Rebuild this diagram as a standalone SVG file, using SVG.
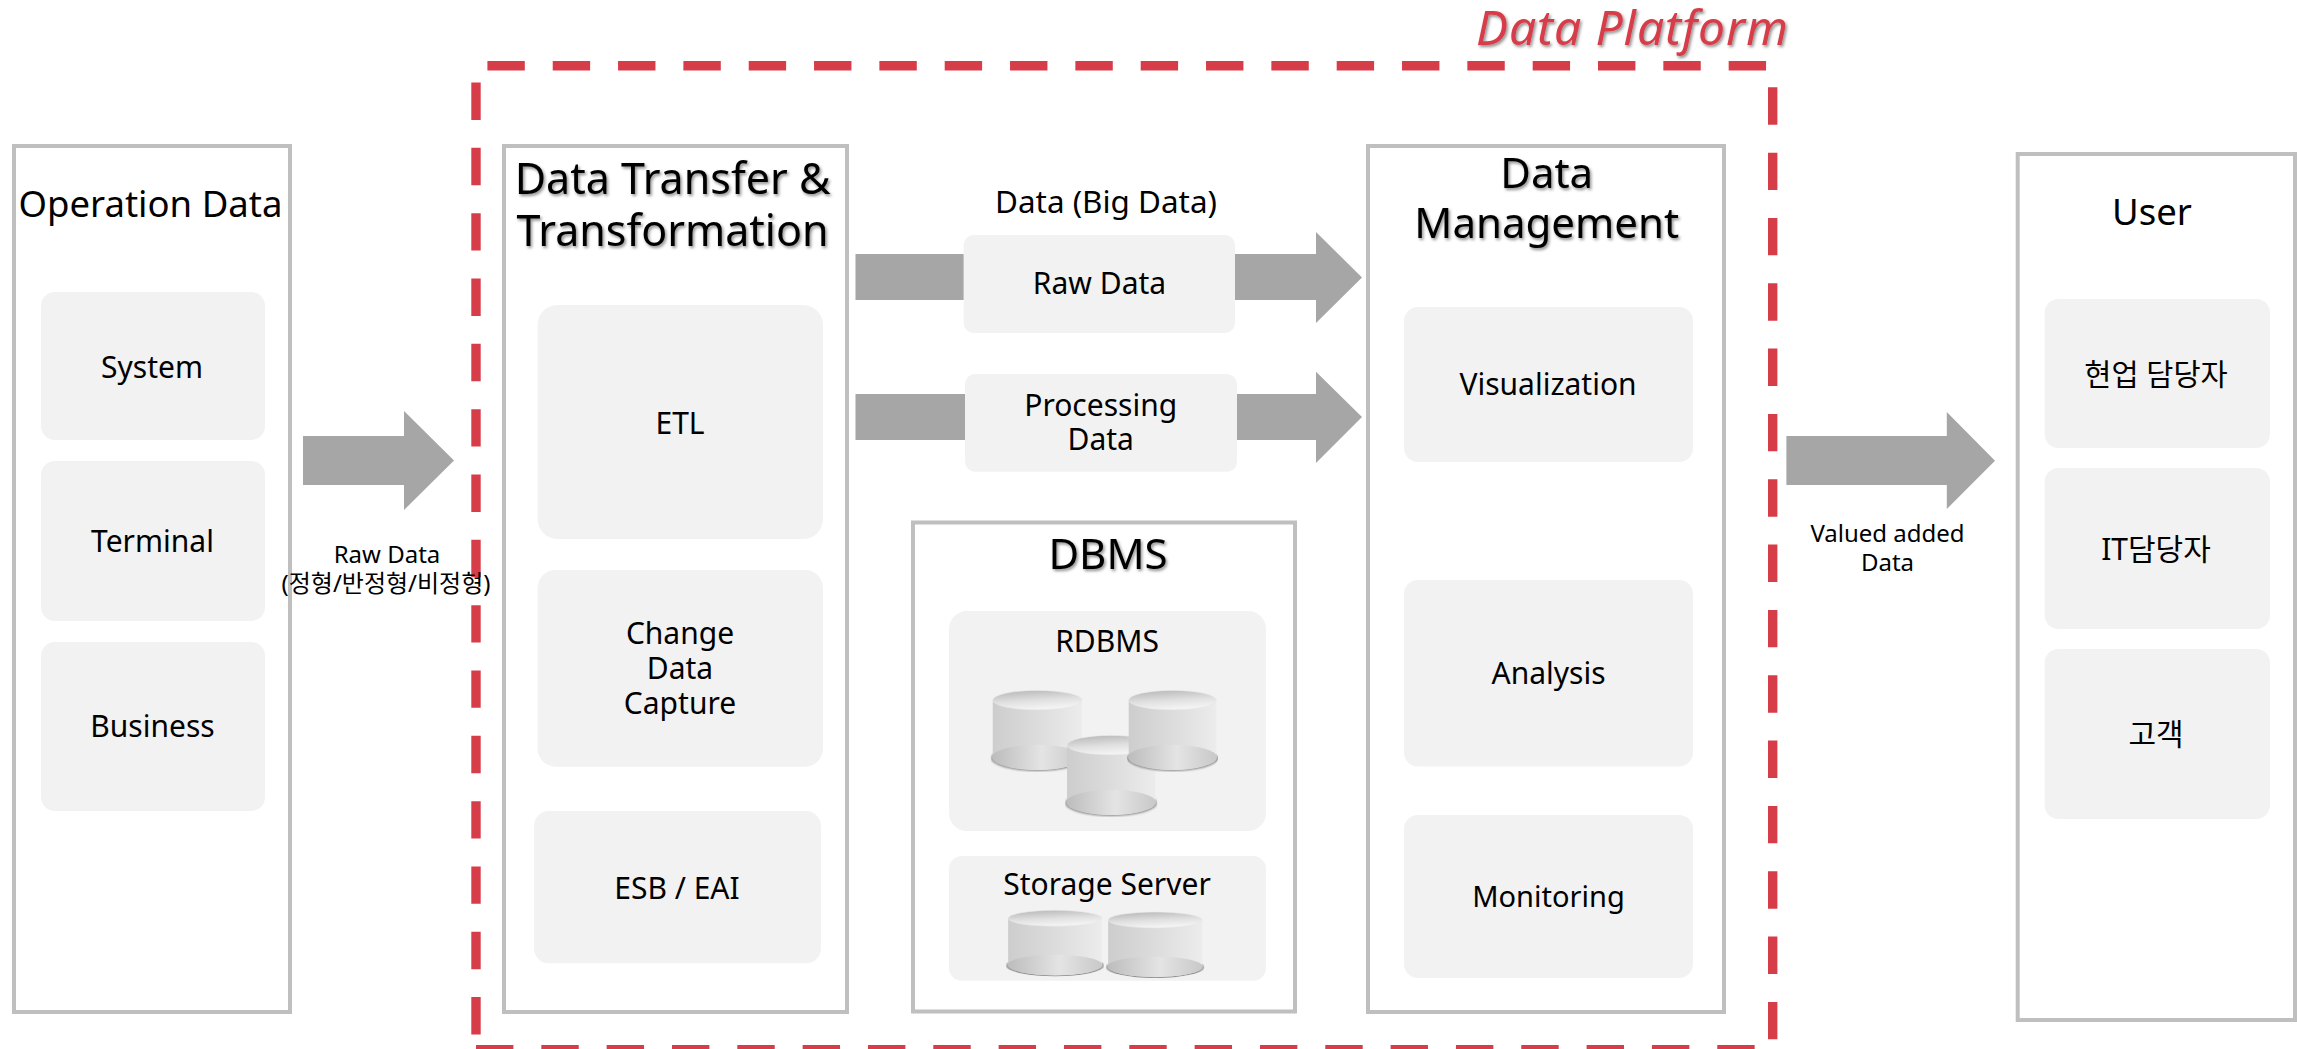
<svg xmlns="http://www.w3.org/2000/svg" width="2297" height="1049" viewBox="0 0 2297 1049">
<style>
text{font-family:"Noto Sans","Noto Sans CJK KR",sans-serif;fill:#000;text-anchor:middle}
.box{fill:#fff;stroke:#bfbfbf;stroke-width:4}
.card{fill:#f2f2f2}
.arrow{fill:#a6a6a6}
.dash{fill:none;stroke:#d73c49;stroke-width:9.4;stroke-dasharray:37.4 27.93}
.t{font-size:30px}
.h{font-size:36.500px}
.title{font-size:42px;filter:url(#ts)}
.s{font-size:24px}
</style>
<defs>
<filter id="ts" x="-10%" y="-20%" width="120%" height="150%"><feDropShadow dx="1.5" dy="2" stdDeviation="1.5" flood-color="#000" flood-opacity=".45"/></filter>
<linearGradient id="cb" x1="0" x2="1" y1="0" y2="0"><stop offset="0" stop-color="#cdcdcd"/><stop offset=".5" stop-color="#dcdcdc"/><stop offset="1" stop-color="#ececec"/></linearGradient>
<linearGradient id="ct" x1="0" x2=".3" y1="0" y2="1"><stop offset="0" stop-color="#b4b4b4"/><stop offset=".6" stop-color="#e0e0e0"/><stop offset="1" stop-color="#f3f3f3"/></linearGradient>
<linearGradient id="cf" x1="0" x2="1" y1="0" y2="0"><stop offset="0" stop-color="#bcbcbc"/><stop offset=".55" stop-color="#e4e4e4"/><stop offset="1" stop-color="#c8c8c8"/></linearGradient>
<filter id="blur" x="-5%" y="-20%" width="110%" height="140%"><feGaussianBlur stdDeviation=".8"/></filter>
<symbol id="cyl" viewBox="0 0 92 81" preserveAspectRatio="none">
<ellipse cx="46" cy="67.300" rx="45.600" ry="12.800" fill="#888" filter="url(#blur)"/>
<path d="M2 10V66A44 13 0 0 0 90 66V10Z" fill="url(#cb)"/>
<ellipse cx="46" cy="66.600" rx="44.800" ry="12.500" fill="url(#cf)"/>
<ellipse cx="46" cy="10" rx="44" ry="9.600" fill="url(#ct)" stroke="#e8e8e8" stroke-width=".6"/>
</symbol>
</defs>
<rect width="2297" height="1049" fill="#fff"/>

<g id="platform-frame">
<path class="dash" d="M487.400 65.800H1772"/>
<path class="dash" d="M1772.700 87.300V1049"/>
<path class="dash" d="M476 1049.700H1772"/>
<path class="dash" d="M476 82.500V1049"/>
<text x="1632" y="45" style="font-size:48px;font-style:italic;fill:#d73c49;filter:url(#ts)" textLength="312">Data Platform</text>
</g>

<g id="operation-data">
<rect class="box" x="14" y="146" width="276" height="866"/>
<text class="h" x="150.500" y="217">Operation Data</text>
<g id="system"><rect class="card" x="41" y="292" width="224" height="148" rx="14"/><text class="t" x="152" y="377.500">System</text></g>
<g id="terminal"><rect class="card" x="41" y="461" width="224" height="160" rx="14"/><text class="t" x="152.500" y="552">Terminal</text></g>
<g id="business"><rect class="card" x="41" y="642" width="224" height="169" rx="14"/><text class="t" x="152.500" y="737">Business</text></g>
</g>

<g id="data-transfer">
<rect class="box" x="504" y="146" width="343" height="866"/>
<text class="title" style="font-size:43px" x="672.500" y="194">Data Transfer &amp;</text>
<text class="title" style="font-size:43px" x="672.500" y="246">Transformation</text>
<g id="etl"><rect class="card" x="537.600" y="305" width="285.400" height="234" rx="20"/><text class="t" x="680" y="434">ETL</text></g>
<g id="cdc"><rect class="card" x="537.600" y="570" width="285.400" height="196.700" rx="18"/><text class="t" x="680" y="644">Change</text><text class="t" x="680" y="679">Data</text><text class="t" x="680" y="714">Capture</text></g>
<g id="esb"><rect class="card" x="534" y="811" width="287" height="152.300" rx="15"/><text class="t" x="677" y="899">ESB / EAI</text></g>
</g>

<g id="connectors">
<path class="arrow" d="M303 436H404V411L454 460.500 404 510V485H303Z"/>
<path class="arrow" d="M855.500 254H1316V232L1362 277.500 1316 323V300H855.500Z"/>
<path class="arrow" d="M855.500 394H1316V371.700L1362 417 1316 463V440H855.500Z"/>
<path class="arrow" d="M1786.400 436H1946.800V412L1995 460.700 1946.800 509V485H1786.400Z"/>
<text class="s" x="387" y="563">Raw Data</text>
<text class="s" x="386" y="592">(정형/반정형/비정형)</text>
<text class="s" x="1887.500" y="542">Valued added</text>
<text class="s" x="1887.500" y="571">Data</text>
<text class="t" style="font-size:31.400px" x="1106" y="213">Data (Big Data)</text>
</g>

<g id="raw-data"><rect class="card" x="963.600" y="235" width="271.400" height="98" rx="10"/><text class="t" x="1099.500" y="294">Raw Data</text></g>
<g id="processing-data"><rect class="card" x="965" y="374" width="272" height="97.700" rx="10"/><text class="t" x="1100.700" y="415.700">Processing</text><text class="t" x="1100.700" y="450">Data</text></g>

<g id="dbms">
<rect class="box" x="913" y="522.500" width="382" height="489"/>
<text class="title" x="1108" y="569">DBMS</text>
<g id="rdbms"><rect class="card" x="949" y="611" width="317" height="220" rx="18"/><text class="t" x="1107" y="652">RDBMS</text>
<use href="#cyl" x="990.700" y="690" width="93.300" height="82"/>
<use href="#cyl" x="1065" y="735" width="92.300" height="82"/>
<use href="#cyl" x="1126.700" y="690" width="91.700" height="82"/></g>
<g id="storage"><rect class="card" x="949" y="856" width="317" height="124.700" rx="13"/><text class="t" x="1107" y="894.500">Storage Server</text>
<use href="#cyl" x="1006" y="910" width="98" height="67"/>
<use href="#cyl" x="1106" y="911.700" width="98.300" height="67"/></g>
</g>

<g id="data-management">
<rect class="box" x="1368" y="146" width="356" height="866"/>
<text class="title" x="1546.700" y="188">Data</text>
<text class="title" x="1546.700" y="238">Management</text>
<g id="visualization"><rect class="card" x="1404" y="307" width="289" height="155" rx="14"/><text class="t" x="1548" y="395">Visualization</text></g>
<g id="analysis"><rect class="card" x="1404" y="580" width="289" height="186.500" rx="14"/><text class="t" x="1548.500" y="684">Analysis</text></g>
<g id="monitoring"><rect class="card" x="1404" y="815" width="289" height="163" rx="14"/><text class="t" style="font-size:29px" x="1548.500" y="907">Monitoring</text></g>
</g>

<g id="user">
<rect class="box" x="2017.700" y="154" width="277.300" height="866"/>
<text class="h" x="2152" y="225">User</text>
<g id="u1"><rect class="card" x="2044.600" y="299" width="225.400" height="149" rx="14"/><text class="t" style="font-size:29.500px" x="2156" y="385">현업 담당자</text></g>
<g id="u2"><rect class="card" x="2044.600" y="468" width="225.400" height="161" rx="14"/><text class="t" x="2156" y="560">IT담당자</text></g>
<g id="u3"><rect class="card" x="2044.600" y="649" width="225.400" height="170" rx="14"/><text class="t" x="2156" y="745">고객</text></g>
</g>
</svg>
